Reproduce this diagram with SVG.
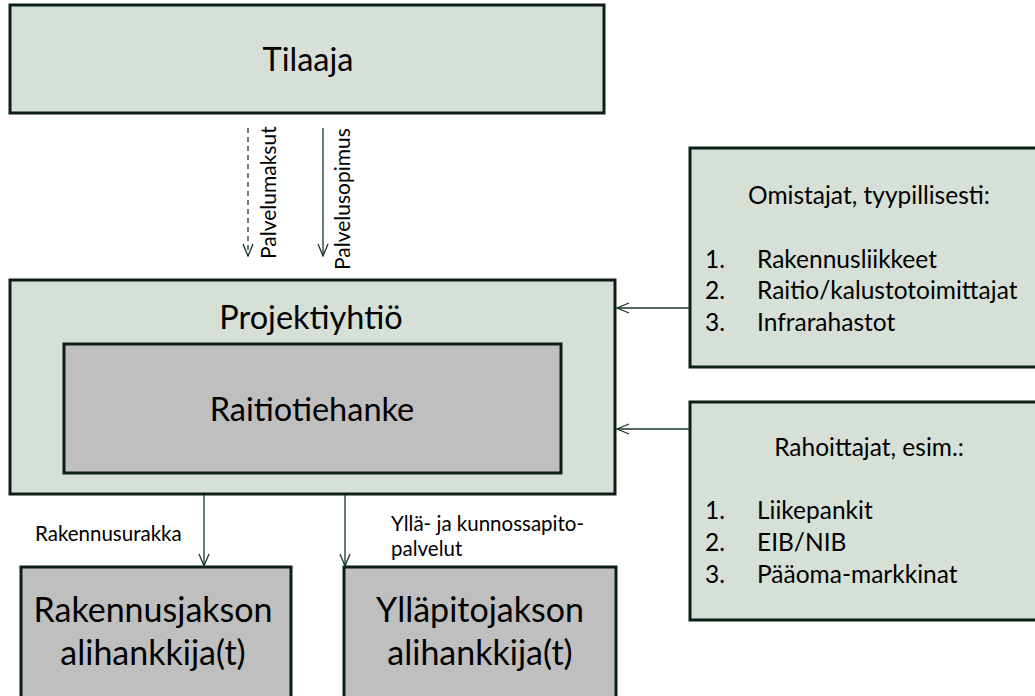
<svg xmlns="http://www.w3.org/2000/svg" width="1035" height="696" viewBox="0 0 1035 696">
<defs>
<style>
.box{fill:#D6E0D6;stroke:#0C1F16;stroke-width:3}
.gbox{fill:#BFBFBF;stroke:#0C1F16;stroke-width:3}
.t{font-family:Lato,"Liberation Sans",sans-serif;fill:#000}
.big{font-size:32.5px}
.xl{font-size:34px}
.mid{font-size:24.5px}
.sm{font-size:20.5px}
.rot{font-size:21px}
.c{stroke:#183828;stroke-width:1.3;fill:none}
.dash{stroke-dasharray:5,4}
</style>
<marker id="ah" viewBox="0 0 14 12" refX="13" refY="6" markerWidth="14" markerHeight="12" markerUnits="userSpaceOnUse" orient="auto">
<path d="M1,1 L13,6 L1,11" fill="none" stroke="#183828" stroke-width="1.3"/>
</marker>
</defs>
<rect width="1035" height="696" fill="#fff"/>
<g id="tilaaja">
<rect class="box" x="10" y="5" width="594" height="108"/>
<text class="t big" x="308" y="71" text-anchor="middle">Tilaaja</text>
</g>
<g id="projektiyhtio">
<rect class="box" x="10" y="280" width="605" height="214"/>
<text class="t big" x="311" y="329" text-anchor="middle">Projektiyhtiö</text>
</g>
<g id="raitiotiehanke">
<rect class="gbox" x="64" y="344" width="497" height="129"/>
<text class="t big" x="312" y="421" text-anchor="middle">Raitiotiehanke</text>
</g>
<g id="omistajat">
<rect class="box" x="690" y="148" width="350" height="219"/>
<text class="t mid" x="869" y="204" text-anchor="middle">Omistajat, tyypillisesti:</text>
<text class="t mid" x="705" y="268">1.</text><text class="t mid" x="757" y="268">Rakennusliikkeet</text>
<text class="t mid" x="705" y="299">2.</text><text class="t mid" x="757" y="299">Raitio/kalustotoimittajat</text>
<text class="t mid" x="705" y="331">3.</text><text class="t mid" x="757" y="331">Infrarahastot</text>
</g>
<g id="rahoittajat">
<rect class="box" x="690" y="402" width="350" height="218"/>
<text class="t mid" x="869" y="456" text-anchor="middle">Rahoittajat, esim.:</text>
<text class="t mid" x="705" y="519">1.</text><text class="t mid" x="757" y="519">Liikepankit</text>
<text class="t mid" x="705" y="551">2.</text><text class="t mid" x="757" y="551">EIB/NIB</text>
<text class="t mid" x="705" y="583">3.</text><text class="t mid" x="757" y="583">Pääoma-markkinat</text>
</g>
<g id="rakennusjakson">
<rect class="gbox" x="21" y="567" width="270" height="140"/>
<text class="t xl" x="153" y="622" text-anchor="middle">Rakennusjakson</text>
<text class="t xl" x="153" y="665" text-anchor="middle">alihankkija(t)</text>
</g>
<g id="yllapitojakson">
<rect class="gbox" x="344" y="567" width="272" height="140"/>
<text class="t xl" x="480" y="622" text-anchor="middle">Ylläpitojakson</text>
<text class="t xl" x="480" y="665" text-anchor="middle">alihankkija(t)</text>
</g>
<g id="connectors">
<line class="c dash" x1="248" y1="128" x2="248" y2="256" marker-end="url(#ah)"/>
<line class="c" x1="323" y1="128" x2="323" y2="256" marker-end="url(#ah)"/>
<line class="c" x1="690" y1="308" x2="617" y2="308" marker-end="url(#ah)"/>
<line class="c" x1="690" y1="429" x2="617" y2="429" marker-end="url(#ah)"/>
<line class="c" x1="204" y1="495" x2="204" y2="566" marker-end="url(#ah)"/>
<line class="c" x1="345" y1="495" x2="345" y2="566" marker-end="url(#ah)"/>
<text class="t rot" transform="translate(276,259) rotate(-90)">Palvelumaksut</text>
<text class="t rot" transform="translate(350,270) rotate(-90)">Palvelusopimus</text>
<text class="t sm" x="35" y="541">Rakennusurakka</text>
<text class="t sm" x="391" y="531">Yllä- ja kunnossapito-</text>
<text class="t sm" x="391" y="556">palvelut</text>
</g>
</svg>
